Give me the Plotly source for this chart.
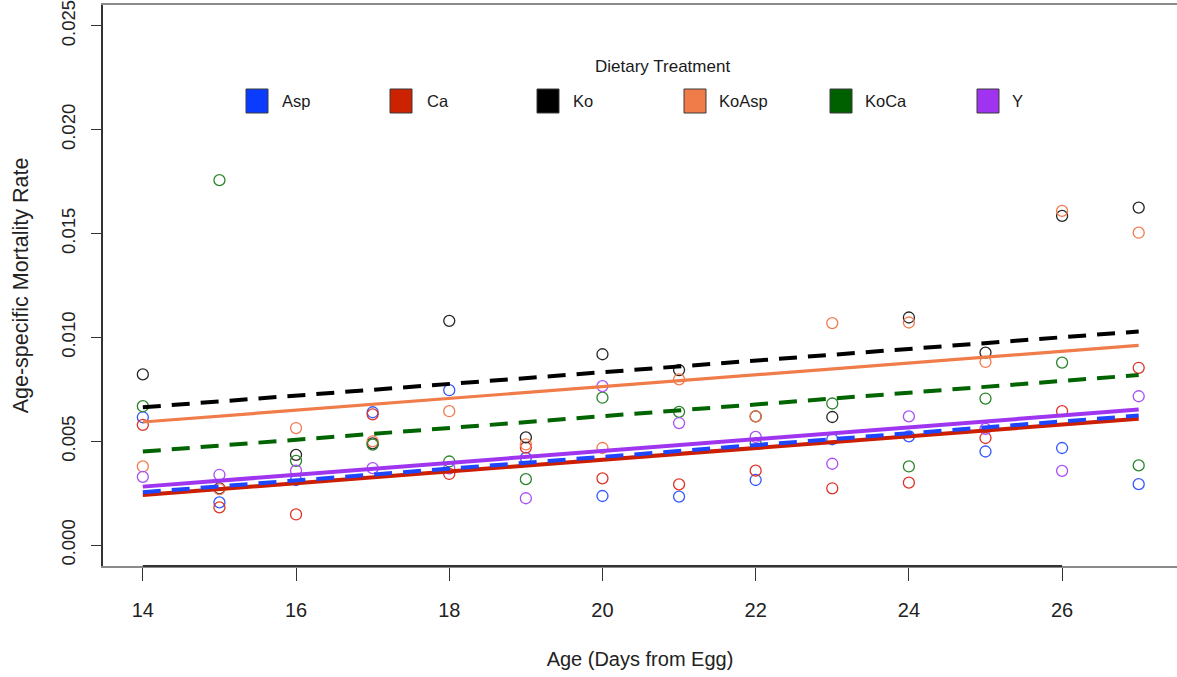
import plotly.graph_objects as go

# ---------------- data ----------------
ages = [14, 15, 16, 17, 18, 19, 20, 21, 22, 23, 24, 25, 26, 27]
treatments = ["Asp", "Ca", "Ko", "KoAsp", "KoCa", "Y"]

asp   = [0.00616, 0.00206, 0.00314, 0.00640, 0.00746, 0.00420, 0.00237, 0.00234, 0.00314, 0.00510, 0.00524, 0.00451, 0.00468, 0.00294]
ca    = [0.00579, 0.00182, 0.00148, 0.00630, 0.00343, 0.00470, 0.00322, 0.00293, 0.00359, 0.00274, 0.00301, 0.00516, 0.00645, 0.00854]
ko    = [0.00822, 0.00274, 0.00435, 0.00490, 0.01080, 0.00519, 0.00919, 0.00843, 0.00620, 0.00617, 0.01096, 0.00927, 0.01585, 0.01625]
koasp = [0.00379, 0.00270, 0.00564, 0.00500, 0.00645, 0.00485, 0.00468, 0.00798, 0.00620, 0.01069, 0.01072, 0.00882, 0.01609, 0.01504]
koca  = [0.00669, 0.01757, 0.00406, 0.00484, 0.00403, 0.00318, 0.00710, 0.00642, 0.00490, 0.00682, 0.00379, 0.00706, 0.00879, 0.00384]
yy    = [0.00329, 0.00339, 0.00359, 0.00371, 0.00370, 0.00226, 0.00766, 0.00588, 0.00521, 0.00392, 0.00620, 0.00560, 0.00358, 0.00717]

# fitted lines: value at first and last age
fit_ages  = [14, 27]
fit_asp   = [0.00255, 0.00624]
fit_ca    = [0.00242, 0.00609]
fit_ko    = [0.00664, 0.01029]
fit_koasp = [0.00593, 0.00962]
fit_koca  = [0.00451, 0.00819]
fit_y     = [0.00282, 0.00653]

x_ticks = [14, 16, 18, 20, 22, 24, 26]
y_ticks = [0.000, 0.005, 0.010, 0.015, 0.020, 0.025]
y_ticktext = ["0.000", "0.005", "0.010", "0.015", "0.020", "0.025"]

# ---------------- styles ----------------
point_colors = {"Asp": "#3557ff", "Ca": "#dd3328", "Ko": "#262626",
                "KoAsp": "#f27a4e", "KoCa": "#2a852a", "Y": "#a850f5"}
line_colors = {"Asp": "#1f46ff", "Ca": "#cc1f00", "Ko": "#000000",
               "KoAsp": "#f07c4a", "KoCa": "#006400", "Y": "#a035f0"}
legend_colors = {"Asp": "#0a3cff", "Ca": "#cc2200", "Ko": "#000000",
                 "KoAsp": "#f07c4a", "KoCa": "#006000", "Y": "#a033f0"}
line_dash = {"Asp": "18px,11px", "Ca": "solid", "Ko": "18px,11px",
             "KoAsp": "solid", "KoCa": "18px,11px", "Y": "solid"}
line_width = {"Asp": 4, "Ca": 4, "Ko": 4, "KoAsp": 3.2, "KoCa": 4, "Y": 4}

series = {"Asp": asp, "Ca": ca, "Ko": ko, "KoAsp": koasp, "KoCa": koca, "Y": yy}
fits = {"Asp": fit_asp, "Ca": fit_ca, "Ko": fit_ko, "KoAsp": fit_koasp, "KoCa": fit_koca, "Y": fit_y}

FONT = "Liberation Sans, Arial, sans-serif"
W, H = 1177, 677
ML, MR, MT, MB = 103, 0, 5, 111
PW, PH = W - ML - MR, H - MT - MB

fig = go.Figure()

for t in treatments:
    fig.add_trace(go.Scatter(
        x=ages, y=series[t], mode="markers", name=t, showlegend=False,
        marker=dict(symbol="circle-open", size=11, color=point_colors[t],
                    line=dict(width=1.3, color=point_colors[t]))))

for t in ["Ko", "KoAsp", "KoCa", "Ca", "Y", "Asp"]:
    fig.add_trace(go.Scatter(
        x=fit_ages, y=fits[t], mode="lines", showlegend=False,
        line=dict(color=line_colors[t], width=line_width[t], dash=line_dash[t])))

def px_x(p):
    return (p - ML) / PW

def px_y(p):
    return (H - MB - p) / PH

shapes = []
annotations = []
# darker x-axis segment from 14 to 26
shapes.append(dict(type="line", xref="x", yref="paper", x0=14, x1=26, y0=0, y1=0,
                   line=dict(color="#333333", width=1.8)))

# manual legend
sq_left = [246, 390, 537, 684, 830, 977]
lab_left = [280, 425, 571, 717, 863, 1010]
for i, t in enumerate(treatments):
    shapes.append(dict(type="rect", xref="paper", yref="paper",
                       x0=px_x(sq_left[i]), x1=px_x(sq_left[i] + 22),
                       y0=px_y(113), y1=px_y(89),
                       fillcolor=legend_colors[t], line=dict(color="#3a3a3a", width=1)))
    annotations.append(dict(xref="paper", yref="paper", x=px_x(lab_left[i]), y=px_y(101),
                            text=t, showarrow=False, xanchor="left", yanchor="middle",
                            font=dict(family=FONT, size=16.5, color="#1a1a1a")))
annotations.append(dict(xref="paper", yref="paper", x=px_x(662), y=px_y(67),
                        text="Dietary Treatment", showarrow=False, xanchor="center",
                        yanchor="middle", font=dict(family=FONT, size=17, color="#1a1a1a")))

fig.update_layout(
    width=W, height=H,
    margin=dict(l=ML, r=MR, t=MT, b=MB, autoexpand=False),
    paper_bgcolor="white", plot_bgcolor="white",
    font=dict(family=FONT, size=20, color="#222222"),
    shapes=shapes, annotations=annotations,
    showlegend=False,
    xaxis=dict(range=[13.48, 27.50], tickvals=x_ticks, ticks="outside", ticklen=13,
               tickwidth=1, tickcolor="#333333", showline=True, mirror=True,
               linecolor="#8a8a8a", linewidth=1.5, showgrid=False, zeroline=False,
               automargin=False, ticklabelstandoff=12,
               tickfont=dict(family=FONT, size=20, color="#222222"),
               title=dict(text="Age (Days from Egg)", standoff=32,
                          font=dict(family=FONT, size=20, color="#222222"))),
    yaxis=dict(range=[-0.001, 0.026], tickvals=y_ticks, ticktext=y_ticktext,
               tickangle=-90, ticks="outside", ticklen=10, tickwidth=1,
               tickcolor="#333333", showline=True, linecolor="#333333", linewidth=1.5,
               showgrid=False, zeroline=False, automargin=False, ticklabelstandoff=9,
               ticklabeloverflow="allow",
               tickfont=dict(family=FONT, size=18.5, color="#222222"),
               title=dict(text="Age-specific Mortality Rate", standoff=23,
                          font=dict(family=FONT, size=21.5, color="#222222"))),
)

fig.write_html("out.html", config={"displayModeBar": False},
               post_script="document.body.style.margin='0';document.body.style.overflow='hidden';")
